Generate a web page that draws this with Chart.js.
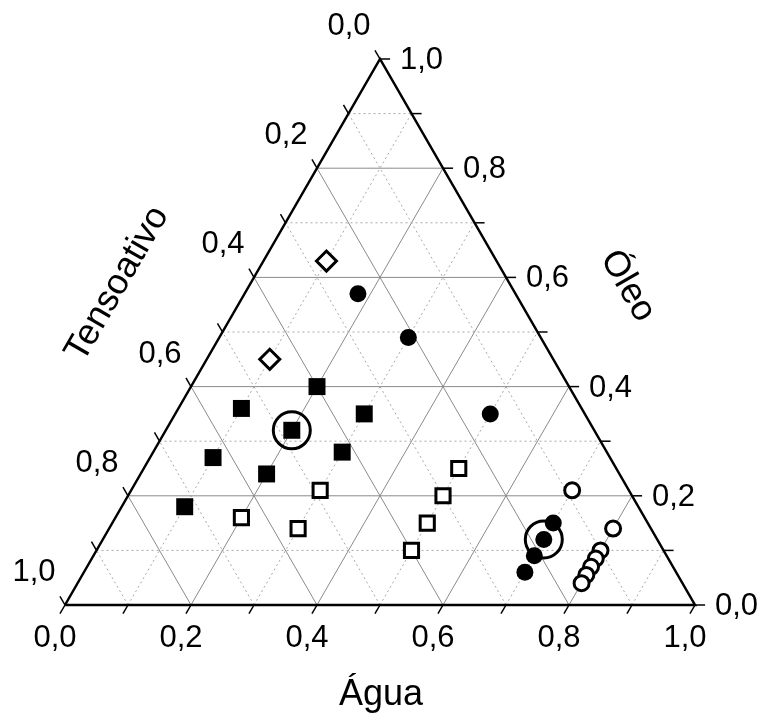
<!DOCTYPE html>
<html>
<head>
<meta charset="utf-8">
<script src="https://cdn.jsdelivr.net/npm/chart.js@4/dist/chart.umd.min.js"></script>
<style>
  html, body { margin: 0; padding: 0; background: #fff; }
  canvas { display: block; }
</style>
</head>
<body>
<canvas id="ternario" width="762" height="720"></canvas>
<script>
const aguaQuadradoCheio = [0.20, 0.10, 0.30, 0.20, 0.10, 0.30, 0.20, 0.10];
const oleoQuadradoCheio = [0.40, 0.36, 0.35, 0.32, 0.27, 0.28, 0.24, 0.18];

const aguaQuadradoVazio = [0.50, 0.50, 0.50, 0.50, 0.30, 0.20, 0.30];
const oleoQuadradoVazio = [0.25, 0.20, 0.15, 0.10, 0.21, 0.16, 0.14];

const aguaCirculoCheio = [0.18, 0.30, 0.50, 0.70, 0.70, 0.70, 0.70];
const oleoCirculoCheio = [0.57, 0.49, 0.35, 0.15, 0.12, 0.09, 0.06];

const aguaCirculoVazio = [0.70, 0.80, 0.80, 0.80, 0.80, 0.80, 0.80];
const oleoCirculoVazio = [0.21, 0.14, 0.10, 0.085, 0.07, 0.055, 0.04];

const aguaLosango = [0.10, 0.10];
const oleoLosango = [0.63, 0.45];

// pontos destacados com anel
const aguaAnel = [0.20, 0.70];
const oleoAnel = [0.32, 0.12];

// grade e escalas
const gradePrincipal = [0.2, 0.4, 0.6, 0.8];
const gradeSecundaria = [0.1, 0.3, 0.5, 0.7, 0.9];
const marcas = [0, 0.1, 0.2, 0.3, 0.4, 0.5, 0.6, 0.7, 0.8, 0.9, 1.0];
const rotuloValores = [0, 0.2, 0.4, 0.6, 0.8, 1.0];
const rotulos = ['0,0', '0,2', '0,4', '0,6', '0,8', '1,0'];

const H = Math.sqrt(3) / 2;

// converte (água, óleo) para coordenadas cartesianas do triângulo
function pt(agua, oleo) {
    return { x: agua + oleo / 2, y: oleo * H };
}

function serie(aguas, oleos) {
    return aguas.map((a, i) => pt(a, oleos[i]));
}

function segmento(a, b, cor, largura, tracejado, ordem) {
    return {
        data: [a, b],
        showLine: true,
        borderColor: cor,
        borderWidth: largura,
        borderDash: tracejado,
        pointRadius: 0,
        pointHoverRadius: 0,
        fill: false,
        clip: false,
        order: ordem
    };
}

const datasets = [];

// linhas da grade (água, óleo e tensoativo constantes)
function linhasGrade(valores, cor, tracejado) {
    valores.forEach(k => {
        datasets.push(segmento(pt(0, k), pt(1 - k, k), cor, 1, tracejado, 20));
        datasets.push(segmento(pt(k, 0), pt(k, 1 - k), cor, 1, tracejado, 20));
        datasets.push(segmento(pt(1 - k, 0), pt(0, 1 - k), cor, 1, tracejado, 20));
    });
}
linhasGrade(gradeSecundaria, '#a8a8a8', [2, 3]);
linhasGrade(gradePrincipal, '#8a8a8a', []);

// marcas dos eixos
const tam = 0.016;
marcas.forEach(k => {
    const b = pt(k, 0);
    datasets.push(segmento(b, { x: b.x - 0.5 * tam, y: b.y - H * tam }, '#000', 1.5, [], 15));
    const d = pt(1 - k, k);
    datasets.push(segmento(d, { x: d.x + tam, y: d.y }, '#000', 1.5, [], 15));
    const e = pt(0, 1 - k);
    datasets.push(segmento(e, { x: e.x - 0.5 * tam, y: e.y + H * tam }, '#000', 1.5, [], 15));
});

// contorno do triângulo
datasets.push({
    data: [pt(0, 0), pt(1, 0), pt(0, 1), pt(0, 0)],
    showLine: true,
    borderColor: '#000',
    borderWidth: 2.5,
    pointRadius: 0,
    fill: false,
    clip: false,
    order: 10
});

function marcador(dados, estilo, raio, cheio, ordem) {
    return {
        data: dados,
        showLine: false,
        pointStyle: estilo,
        pointRadius: raio,
        pointHoverRadius: raio,
        backgroundColor: cheio ? '#000' : '#fff',
        borderColor: '#000',
        borderWidth: cheio ? 0 : 3,
        clip: false,
        order: ordem
    };
}

datasets.push(marcador(serie(aguaQuadradoCheio, oleoQuadradoCheio), 'rect', 12, true, 5));
datasets.push(marcador(serie(aguaQuadradoVazio, oleoQuadradoVazio), 'rect', 10, false, 5));
datasets.push(marcador(serie(aguaCirculoCheio, oleoCirculoCheio), 'circle', 8.5, true, 5));
datasets.push(marcador(serie(aguaCirculoVazio, oleoCirculoVazio), 'circle', 7.5, false, 5));
datasets.push(marcador(serie(aguaLosango, oleoLosango), 'rectRot', 10, false, 5));
datasets.push({
    data: serie(aguaAnel, oleoAnel),
    showLine: false,
    pointStyle: 'circle',
    pointRadius: 18.5,
    pointHoverRadius: 18.5,
    backgroundColor: 'rgba(0,0,0,0)',
    borderColor: '#000',
    borderWidth: 3,
    clip: false,
    order: 0
});

const FONTE = '"Liberation Sans", Arial, Helvetica, sans-serif';

const rotulosTernarios = {
    id: 'rotulosTernarios',
    afterDraw(chart) {
        const { ctx, scales: { x, y } } = chart;
        const px = p => [x.getPixelForValue(p.x), y.getPixelForValue(p.y)];
        ctx.save();
        ctx.fillStyle = '#000';
        ctx.font = '31px ' + FONTE;
        ctx.textBaseline = 'alphabetic';
        rotuloValores.forEach((v, i) => {
            const txt = rotulos[i];
            // Água (base)
            let [a, b] = px(pt(v, 0));
            ctx.textAlign = 'center';
            ctx.fillText(txt, a - 10, b + 42);
            // Óleo (lado direito)
            [a, b] = px(pt(1 - v, v));
            ctx.textAlign = 'left';
            ctx.fillText(txt, a + 20, b + 10);
            // Tensoativo (lado esquerdo)
            [a, b] = px(pt(0, 1 - v));
            ctx.textAlign = 'center';
            ctx.fillText(txt, a - 31, b - 24);
        });

        // títulos dos eixos
        ctx.font = '36px ' + FONTE;
        let [a, b] = px(pt(0.5, 0));
        ctx.textAlign = 'center';
        ctx.fillText('Água', a + 1, b + 100);

        [a, b] = px(pt(0.5, 0.5));
        ctx.save();
        ctx.translate(a + 90, b - 46);
        ctx.rotate(Math.PI / 3);
        ctx.textBaseline = 'middle';
        ctx.fillText('Óleo', 0, 0);
        ctx.restore();

        [a, b] = px(pt(0, 0.5));
        ctx.save();
        ctx.translate(a - 105, b - 48);
        ctx.rotate(-Math.PI / 3);
        ctx.textBaseline = 'middle';
        ctx.fillText('Tensoativo', 0, 0);
        ctx.restore();

        ctx.restore();
    }
};

window.addEventListener('DOMContentLoaded', () => {
    const ctx = document.getElementById('ternario');
    new Chart(ctx.getContext('2d'), {
        type: 'scatter',
        data: { datasets },
        options: {
            responsive: false,
            animation: false,
            events: [],
            layout: { padding: { left: 65, right: 67, top: 59, bottom: 115 } },
            plugins: {
                legend: { display: false },
                tooltip: { enabled: false }
            },
            scales: {
                x: { type: 'linear', min: 0, max: 1, display: false },
                y: { type: 'linear', min: 0, max: H, display: false }
            }
        },
        plugins: [rotulosTernarios]
    });
});
</script>
</body>
</html>
